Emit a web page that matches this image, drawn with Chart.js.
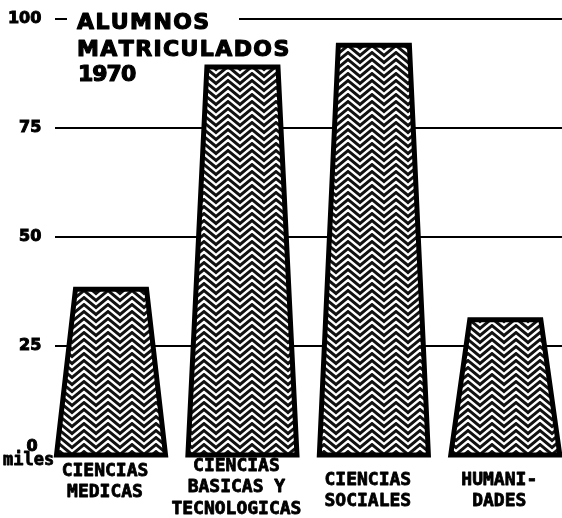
<!DOCTYPE html>
<html>
<head>
<meta charset="utf-8">
<script src="https://cdn.jsdelivr.net/npm/chart.js@4"></script>
<style>
  html, body { margin: 0; padding: 0; background: #fff; overflow: hidden; }
  canvas { display: block; }
</style>
</head>
<body>
<canvas id="chart" width="571" height="518"></canvas>
<script>
// thousands of students enrolled, 1970
const categories = [
  ['CIENCIAS', 'MEDICAS'],
  ['CIENCIAS', 'BASICAS Y', 'TECNOLOGICAS'],
  ['CIENCIAS', 'SOCIALES'],
  ['HUMANI-', 'DADES']
];
const alumnos = [38, 89, 94, 31];
const yTicks = [0, 25, 50, 75, 100];
const titleLines = ['ALUMNOS', 'MATRICULADOS', '1970'];
const unitLabel = 'miles';

// zigzag hatch like the printed original
function makeZigzag(ctx) {
  const c = document.createElement('canvas');
  c.width = 24; c.height = 7;
  const g = c.getContext('2d');
  g.fillStyle = '#111';
  g.fillRect(0, 0, 24, 7);
  g.strokeStyle = '#fff';
  g.lineWidth = 2.4;
  g.lineJoin = 'miter';
  for (let k = -3; k <= 2; k++) {
    const y0 = k * 7;
    g.beginPath();
    g.moveTo(-12, y0);
    g.lineTo(0, y0 + 10);
    g.lineTo(12, y0);
    g.lineTo(24, y0 + 10);
    g.lineTo(36, y0);
    g.stroke();
  }
  return ctx.createPattern(c, 'repeat');
}

const gridPlugin = {
  id: 'grid',
  beforeDatasetsDraw(chart) {
    const { ctx, scales: { y } } = chart;
    ctx.save();
    ctx.strokeStyle = '#000';
    ctx.lineWidth = 2;
    yTicks.forEach(v => {
      if (v === 0) return;
      const py = Math.round(y.getPixelForValue(v));
      ctx.beginPath();
      ctx.moveTo(55, py);
      ctx.lineTo(chart.width, py);
      ctx.stroke();
    });
    ctx.restore();
  }
};

const trapezoidPlugin = {
  id: 'trapezoids',
  afterDatasetsDraw(chart) {
    const { ctx } = chart;
    const pattern = makeZigzag(ctx);
    const meta = chart.getDatasetMeta(0);
    ctx.save();
    meta.data.forEach(bar => {
      const { x, y, base, width } = bar.getProps(['x', 'y', 'base', 'width'], true);
      const top = width * 0.64;
      ctx.beginPath();
      ctx.moveTo(x - top / 2, y);
      ctx.lineTo(x + top / 2, y);
      ctx.lineTo(x + width / 2 - 1, base);
      ctx.lineTo(x - width / 2 + 1, base);
      ctx.closePath();
      ctx.fillStyle = pattern;
      ctx.fill();
      ctx.lineWidth = 5;
      ctx.lineJoin = 'miter';
      ctx.strokeStyle = '#000';
      ctx.stroke();
    });
    ctx.restore();
  }
};

function drawSpaced(ctx, text, x, y, spacing) {
  let cx = x;
  for (const ch of text) {
    ctx.strokeText(ch, cx, y);
    ctx.fillText(ch, cx, y);
    cx += ctx.measureText(ch).width + spacing;
  }
}

const textPlugin = {
  id: 'texts',
  afterDraw(chart) {
    const { ctx, scales: { x, y } } = chart;
    ctx.save();
    // break in the 100 line where the title sits
    const p100 = y.getPixelForValue(100);
    ctx.fillStyle = '#fff';
    ctx.fillRect(67, p100 - 4, 172, 8);

    ctx.fillStyle = '#000';
    ctx.strokeStyle = '#000';
    ctx.lineJoin = 'round';
    ctx.lineWidth = 1.2;
    ctx.textBaseline = 'alphabetic';
    ctx.textAlign = 'left';
    ctx.font = 'bold 22px "DejaVu Sans"';
    drawSpaced(ctx, titleLines[0], 77, 29, 1.4);
    drawSpaced(ctx, titleLines[1], 77, 56, 1.4);
    drawSpaced(ctx, titleLines[2], 78, 81, -1);

    // zero label sits above the unit word
    ctx.lineWidth = 1;
    ctx.font = 'bold 16px "DejaVu Sans"';
    ctx.textBaseline = 'middle';
    ctx.textAlign = 'center';
    ctx.strokeText(String(yTicks[0]), 32, y.getPixelForValue(0) - 8);
    ctx.fillText(String(yTicks[0]), 32, y.getPixelForValue(0) - 8);

    ctx.lineWidth = 0.8;
    ctx.textAlign = 'left';
    ctx.font = 'bold 17px "DejaVu Sans Mono"';
    ctx.strokeText(unitLabel, 3, 461);
    ctx.fillText(unitLabel, 3, 461);

    // category labels under each bar
    const firstLine = [471, 466, 480, 480];
    ctx.font = 'bold 18px "DejaVu Sans Mono"';
    ctx.textAlign = 'center';
    categories.forEach((lines, i) => {
      const cx = x.getPixelForValue(i) - 6;
      lines.forEach((t, j) => {
        ctx.strokeText(t, cx, firstLine[i] + j * 21.5);
        ctx.fillText(t, cx, firstLine[i] + j * 21.5);
      });
    });
    ctx.restore();
  }
};

new Chart(document.getElementById('chart'), {
  type: 'bar',
  data: {
    labels: categories,
    datasets: [{
      label: 'Alumnos matriculados 1970',
      data: alumnos,
      backgroundColor: 'rgba(0,0,0,0)',
      borderWidth: 0,
      barPercentage: 0.845,
      categoryPercentage: 1
    }]
  },
  options: {
    responsive: false,
    animation: false,
    layout: { padding: { top: 19, right: 0, bottom: 63, left: 0 } },
    plugins: {
      legend: { display: false },
      tooltip: { enabled: false }
    },
    scales: {
      x: { display: false },
      y: {
        min: 0,
        max: 100,
        afterFit: scale => { scale.width = 45.3; },
        afterBuildTicks: scale => { scale.ticks = yTicks.map(v => ({ value: v })); },
        grid: { display: false, drawTicks: false },
        border: { display: false },
        ticks: {
          padding: 4,
          color: '#000',
          textStrokeColor: '#000',
          textStrokeWidth: 1,
          font: { family: 'DejaVu Sans', weight: 'bold', size: 16 },
          callback: v => (v === 0 ? '' : v)
        }
      }
    }
  },
  plugins: [gridPlugin, trapezoidPlugin, textPlugin]
});
</script>
</body>
</html>
